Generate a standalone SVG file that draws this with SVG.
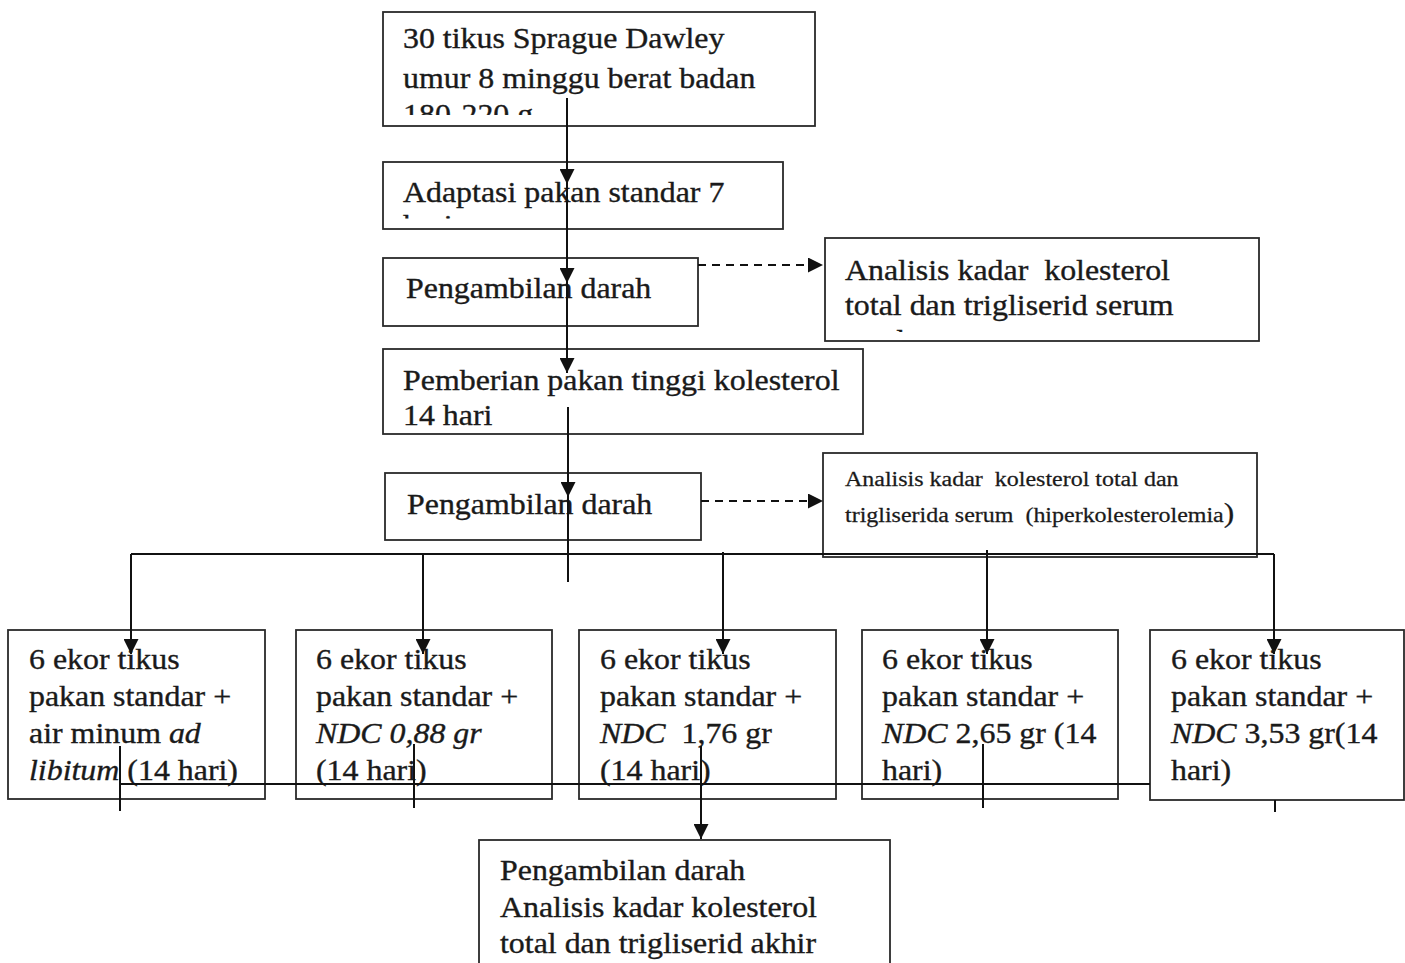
<svg xmlns="http://www.w3.org/2000/svg" width="1405" height="963" viewBox="0 0 1405 963">
<style>
.box{fill:none;stroke:#2a2a2a;stroke-width:1.8}
.t{font-family:"Liberation Serif","Times New Roman",serif;font-size:29px;fill:#1a1a1a;stroke:#1a1a1a;stroke-width:0.35;white-space:pre}
.s{font-family:"Liberation Serif","Times New Roman",serif;font-size:20.5px;fill:#1a1a1a;stroke:#1a1a1a;stroke-width:0.25;white-space:pre}
.it{font-style:italic}
.ln{fill:none;stroke:#111;stroke-width:2}
.dash{fill:none;stroke:#111;stroke-width:2;stroke-dasharray:8 6}
.arr{marker-end:url(#ah)}
</style>
<defs>
<marker id="ah" markerUnits="userSpaceOnUse" markerWidth="15" markerHeight="15" refX="15" refY="7.5" orient="auto">
<path d="M0,0 L15,7.5 L0,15 z" fill="#111"/>
</marker>
<clipPath id="c1" clipPathUnits="userSpaceOnUse"><rect x="383" y="12" width="432" height="103"/></clipPath>
<clipPath id="c2" clipPathUnits="userSpaceOnUse"><rect x="383" y="162" width="400" height="56.5"/></clipPath>
<clipPath id="c3" clipPathUnits="userSpaceOnUse"><rect x="825" y="238" width="434" height="94"/></clipPath>
</defs>

<g id="n-start">
<rect class="box" x="383" y="12" width="432" height="114"/>
<g clip-path="url(#c1)"><g transform="translate(403,0) scale(1.1,1)">
<text class="t" y="48">30 tikus Sprague Dawley</text>
<text class="t" y="88">umur 8 minggu berat badan</text>
<text class="t" y="124.5">180-220 g</text>
</g></g>
</g>

<g id="n-adaptasi">
<rect class="box" x="383" y="162" width="400" height="67"/>
<g clip-path="url(#c2)"><g transform="translate(403,0) scale(1.1,1)">
<text class="t" y="202">Adaptasi pakan standar 7</text>
<text class="t" y="235">hari</text>
</g></g>
</g>

<g id="n-darah1">
<rect class="box" x="383" y="258" width="315" height="68"/>
<g transform="translate(406,0) scale(1.1,1)"><text class="t" y="298">Pengambilan darah</text></g>
</g>

<g id="n-analisis1">
<rect class="box" x="825" y="238" width="434" height="103"/>
<g clip-path="url(#c3)"><g transform="translate(845,0) scale(1.1,1)">
<text class="t" y="280">Analisis kadar  kolesterol</text>
<text class="t" y="315">total dan trigliserid serum</text>
<text class="t" y="350">awal</text>
</g></g>
</g>

<g id="n-pemberian">
<rect class="box" x="383" y="349" width="480" height="85"/>
<g transform="translate(403,0) scale(1.1,1)">
<text class="t" y="390">Pemberian pakan tinggi kolesterol</text>
<text class="t" y="425">14 hari</text>
</g>
</g>

<g id="n-darah2">
<rect class="box" x="385" y="473" width="316" height="67"/>
<g transform="translate(407,0) scale(1.1,1)"><text class="t" y="514">Pengambilan darah</text></g>
</g>

<g id="n-analisis2">
<rect class="box" x="823" y="453" width="434" height="104"/>
<g transform="translate(845,0) scale(1.17,1)">
<text class="s" y="486">Analisis kadar  kolesterol total dan</text>
<text class="s" y="522">trigliserida serum  (hiperkolesterolemia<tspan style="font-size:27px">)</tspan></text>
</g>
</g>

<g id="n-k1">
<rect class="box" x="8" y="630" width="257" height="169"/>
<g transform="translate(29,0) scale(1.1,1)">
<text class="t" y="669">6 ekor tikus</text>
<text class="t" y="706">pakan standar +</text>
<text class="t" y="743">air minum <tspan class="it">ad</tspan></text>
<text class="t" y="780"><tspan class="it">libitum</tspan> (14 hari)</text>
</g>
</g>

<g id="n-k2">
<rect class="box" x="296" y="630" width="256" height="169"/>
<g transform="translate(316,0) scale(1.1,1)">
<text class="t" y="669">6 ekor tikus</text>
<text class="t" y="706">pakan standar +</text>
<text class="t it" y="743">NDC 0,88 gr</text>
<text class="t" y="780">(14 hari)</text>
</g>
</g>

<g id="n-k3">
<rect class="box" x="579" y="630" width="257" height="169"/>
<g transform="translate(600,0) scale(1.1,1)">
<text class="t" y="669">6 ekor tikus</text>
<text class="t" y="706">pakan standar +</text>
<text class="t" y="743"><tspan class="it">NDC</tspan>  1,76 gr</text>
<text class="t" y="780">(14 hari)</text>
</g>
</g>

<g id="n-k4">
<rect class="box" x="862" y="630" width="256" height="169"/>
<g transform="translate(882,0) scale(1.1,1)">
<text class="t" y="669">6 ekor tikus</text>
<text class="t" y="706">pakan standar +</text>
<text class="t" y="743"><tspan class="it">NDC</tspan> 2,65 gr (14</text>
<text class="t" y="780">hari)</text>
</g>
</g>

<g id="n-k5">
<rect class="box" x="1150" y="630" width="254" height="170"/>
<g transform="translate(1171,0) scale(1.1,1)">
<text class="t" y="669">6 ekor tikus</text>
<text class="t" y="706">pakan standar +</text>
<text class="t" y="743"><tspan class="it">NDC</tspan> 3,53 gr(14</text>
<text class="t" y="780">hari)</text>
</g>
</g>

<g id="n-akhir">
<rect class="box" x="479" y="840" width="411" height="140"/>
<g transform="translate(500,0) scale(1.1,1)">
<text class="t" y="880">Pengambilan darah</text>
<text class="t" y="917">Analisis kadar kolesterol</text>
<text class="t" y="953">total dan trigliserid akhir</text>
</g>
</g>

<g id="connectors">
<path class="ln arr" d="M567,98 V184"/>
<path class="ln arr" d="M567,184 V283"/>
<path class="ln arr" d="M567,283 V373"/>
<path class="ln arr" d="M568,407 V497"/>
<path class="ln" d="M568,497 V582"/>
<path class="dash arr" d="M698,265 H823"/>
<path class="dash arr" d="M701,501 H823"/>
<path class="ln" d="M131,554 H1274"/>
<path class="ln arr" d="M131,554 V654"/>
<path class="ln arr" d="M423,553 V654"/>
<path class="ln arr" d="M723,552 V654"/>
<path class="ln arr" d="M987,550 V654"/>
<path class="ln arr" d="M1274,554 V654"/>
<path class="ln" d="M120,784 H1150"/>
<path class="ln" d="M120,746 V811"/>
<path class="ln" d="M414,744 V808"/>
<path class="ln" d="M983,744 V808"/>
<path class="ln" d="M1275,800 V812"/>
<path class="ln arr" d="M701,746 V839"/>
</g>
</svg>
